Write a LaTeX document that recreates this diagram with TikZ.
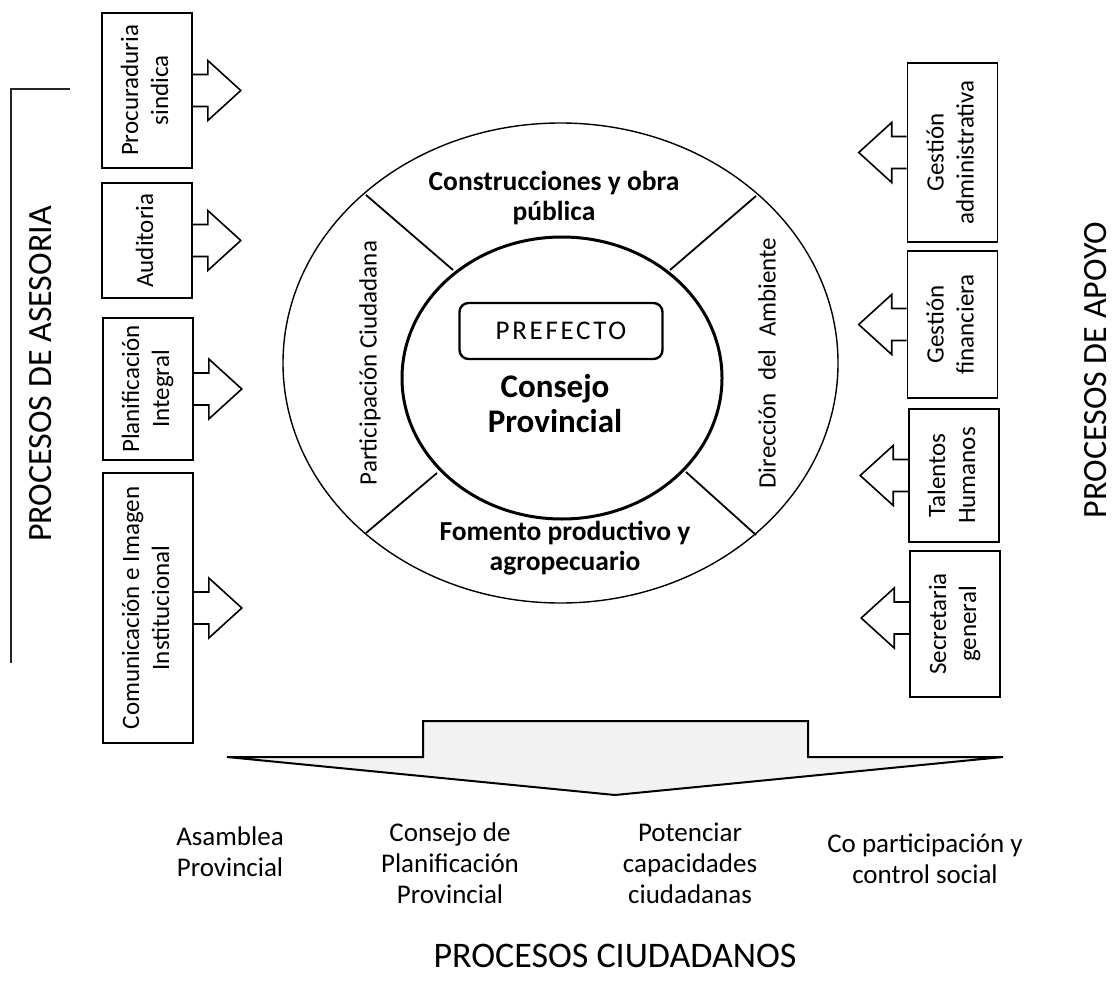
\documentclass[tikz,border=0pt]{standalone}
\usepackage{fontspec}
\setmainfont{Carlito}
\usetikzlibrary{calc,shapes.geometric}

% open block arrow leaving a box to the right / to the left
% (optional argument: vertical offset of the arrow from the box centre)
\newcommand{\blockArrowRight}[2][0pt]{%
  \draw[arrowline] ([yshift=16pt+#1]#2) -- ++(15,0) -- ++(0,-14) -- ++(33,30)
    -- ++(-33,30) -- ++(0,-14) -- ++(-15,0);}
\newcommand{\blockArrowLeft}[2][0pt]{%
  \draw[arrowline] ([yshift=16pt+#1]#2) -- ++(-15,0) -- ++(0,-14) -- ++(-33,30)
    -- ++(33,30) -- ++(0,-14) -- ++(15,0);}
\newcommand{\sideText}[1]{\rotatebox{90}{\begin{tabular}{@{}c@{}}#1\end{tabular}}}

\begin{document}
\begin{tikzpicture}[x=1pt,y=-1pt,
  unitbox/.style={draw=black, line width=1.6pt, minimum width=90pt, inner sep=0pt,
    font=\fontsize{25}{30}\selectfont},
  arrowline/.style={draw=black, line width=1.6pt, line join=miter},
  ringlabel/.style={font=\bfseries\fontsize{27.5}{30}\selectfont, align=center},
  sidelabel/.style={font=\fontsize{25}{30}\selectfont, rotate=90},
  group/.style={font=\fontsize{34}{40}\selectfont, inner sep=2pt},
  citizen/.style={font=\fontsize{27}{31}\selectfont, align=center}
]
\useasboundingbox (0,0) rectangle (1115,992);

% ---- central council ----
\node[draw, line width=1.4pt, ellipse, minimum width=555pt, minimum height=480pt, inner sep=0pt] (outer) at (560.5,363) {};
\node[draw, line width=3pt, ellipse, minimum width=320pt, minimum height=282pt, inner sep=0pt] (inner) at (562,378) {};
\draw[line width=1.8pt] (366,195) -- (453,270);
\draw[line width=1.8pt] (756,196) -- (670,270);
\draw[line width=1.8pt] (366,533) -- (437,473);
\draw[line width=1.8pt] (756,535) -- (686,472);

\node[draw, line width=2.4pt, rounded corners=9pt, minimum width=203pt, minimum height=56pt,
  font=\fontsize{27}{32}\selectfont\addfontfeature{LetterSpace=10}] (pref) at (561,331) {PREFECTO};
\node[font=\bfseries\fontsize{33}{35}\selectfont, align=center] (consejo) at (555,404) {Consejo\\Provincial};

\node[ringlabel] (obras) at (554,198) {Construcciones y obra\\pública};
\node[ringlabel] (fomento) at (565,548) {Fomento productivo y\\agropecuario};
\node[sidelabel] (particip) at (370,363) {Participación Ciudadana};
\node[sidelabel] (ambiente) at (767,363) {Dirección\hspace{7pt} del\hspace{7pt} Ambiente};

% ---- advisory processes ----
\node[unitbox, minimum height=155pt] (proc) at (147,90.5) {\sideText{Procuraduria\\sindica}};
\node[unitbox, minimum height=115pt] (aud) at (147,240.5) {\sideText{Auditoria}};
\node[unitbox, minimum height=142pt] (plan) at (148,389) {\sideText{Planificación\\Integral}};
\node[unitbox, minimum height=270pt] (com) at (148,608) {\sideText{Comunicación e Imagen\\Institucional}};
\blockArrowRight{proc.east}
\blockArrowRight{aud.east}
\blockArrowRight{plan.east}
\blockArrowRight{com.east}

\draw[line width=1.2pt, draw=black!85] (70,89) -- (11,89) -- (11,663);
\node[group, rotate=90] (asesoria) at (41,374) {PROCESOS DE ASESORIA};

% ---- support processes ----
\node[unitbox, minimum height=179pt] (gadm) at (952.5,152.5) {\sideText{Gestión\\administrativa}};
\node[unitbox, minimum height=147pt] (gfin) at (952.5,324.5) {\sideText{Gestión\\financiera}};
\node[unitbox, minimum height=133pt] (tal) at (954,475.5) {\sideText{Talentos\\Humanos}};
\node[unitbox, minimum height=146pt] (sec) at (955,624) {\sideText{Secretaria\\general}};
\blockArrowLeft{gadm.west}
\blockArrowLeft{gfin.west}
\blockArrowLeft{tal.west}
\blockArrowLeft[6pt]{sec.west}

\node[group, rotate=90] (apoyo) at (1096,370) {PROCESOS DE APOYO};

% ---- citizen processes ----
\draw[line width=2pt, fill=gray!10, line join=miter]
  (227,757) -- (423,757) -- (423,721) -- (808,721) -- (808,757) -- (1003,757) -- (615,795) -- cycle;

\node[citizen] (asamblea) at (230,852) {Asamblea\\Provincial};
\node[citizen] (cplan) at (450,863) {Consejo de\\Planificación\\Provincial};
\node[citizen] (potenciar) at (690,863) {Potenciar\\capacidades\\ciudadanas};
\node[citizen] (copart) at (925,859) {Co participación y\\control social};
\node[group, font=\fontsize{36}{40}\selectfont] (ciudadanos) at (615,956) {PROCESOS CIUDADANOS};
\end{tikzpicture}
\end{document}
